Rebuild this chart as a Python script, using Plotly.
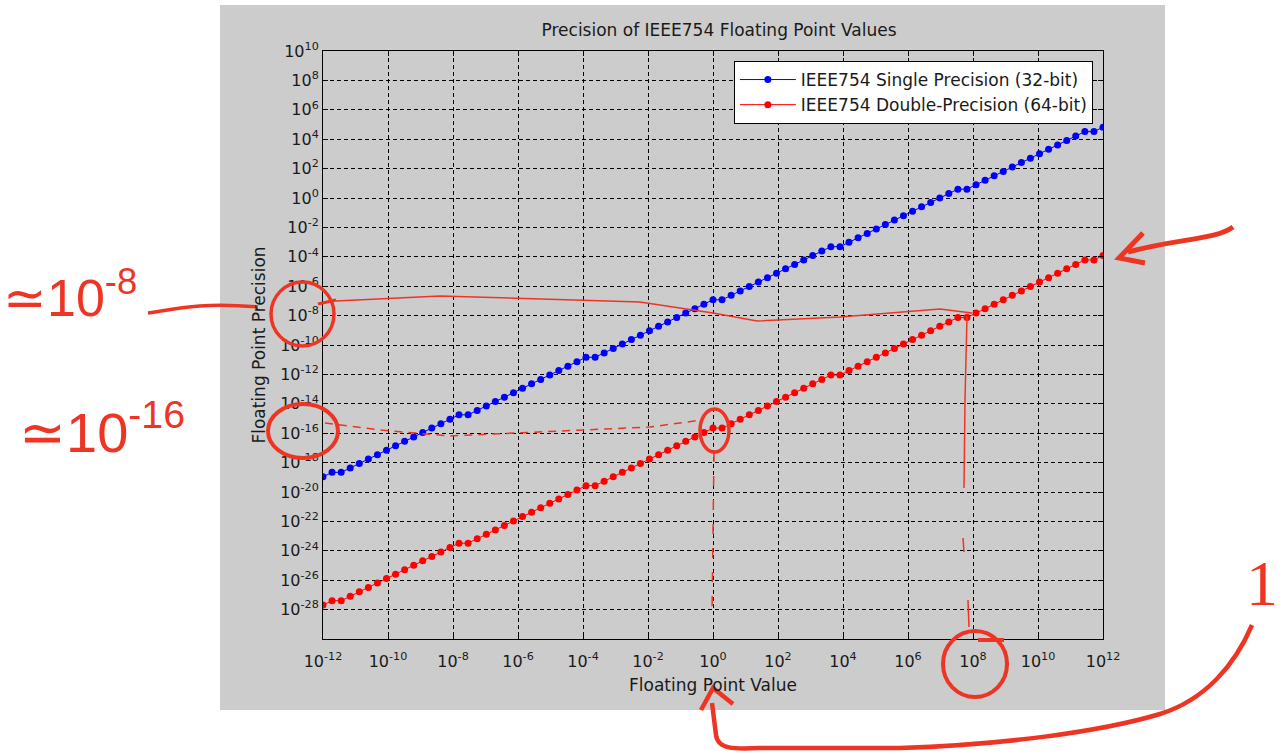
import re
import plotly.graph_objects as go

# ---------------- data ----------------
x_values = [
    1.00e-12, 1.90e-12, 3.62e-12, 6.88e-12, 1.31e-11, 2.49e-11, 4.73e-11, 8.99e-11,
    1.71e-10, 3.25e-10, 6.18e-10, 1.17e-9, 2.23e-9, 4.25e-9, 8.07e-9, 1.53e-8,
    2.92e-8, 5.55e-8, 1.06e-7, 2.01e-7, 3.81e-7, 7.25e-7, 1.38e-6, 2.62e-6,
    4.99e-6, 9.48e-6, 1.80e-5, 3.43e-5, 6.52e-5, 1.24e-4, 2.36e-4, 4.48e-4,
    8.52e-4, 1.62e-3, 3.08e-3, 5.85e-3, 1.11e-2, 2.12e-2, 4.02e-2, 7.65e-2,
    0.145, 0.277, 0.526, 1.00, 1.90, 3.62, 6.88, 13.1,
    24.9, 47.3, 89.9, 171.0, 325.0, 618.0, 1.17e3, 2.23e3,
    4.25e3, 8.07e3, 1.53e4, 2.92e4, 5.55e4, 1.06e5, 2.01e5, 3.81e5,
    7.25e5, 1.38e6, 2.62e6, 4.99e6, 9.48e6, 1.80e7, 3.43e7, 6.52e7,
    1.24e8, 2.36e8, 4.48e8, 8.52e8, 1.62e9, 3.08e9, 5.85e9, 1.11e10,
    2.12e10, 4.02e10, 7.65e10, 1.45e11, 2.77e11, 5.26e11, 1.00e12,
]

single_precision = [
    1.08e-19, 2.17e-19, 2.17e-19, 4.34e-19, 8.67e-19, 1.73e-18, 3.47e-18, 6.94e-18,
    1.39e-17, 2.78e-17, 5.55e-17, 1.11e-16, 2.22e-16, 4.44e-16, 8.88e-16, 1.78e-15,
    1.78e-15, 3.55e-15, 7.11e-15, 1.42e-14, 2.84e-14, 5.68e-14, 1.14e-13, 2.27e-13,
    4.55e-13, 9.09e-13, 1.82e-12, 3.64e-12, 7.28e-12, 1.46e-11, 1.46e-11, 2.91e-11,
    5.82e-11, 1.16e-10, 2.33e-10, 4.66e-10, 9.31e-10, 1.86e-9, 3.73e-9, 7.45e-9,
    1.49e-8, 2.98e-8, 5.96e-8, 1.19e-7, 1.19e-7, 2.38e-7, 4.77e-7, 9.54e-7,
    1.91e-6, 3.81e-6, 7.63e-6, 1.53e-5, 3.05e-5, 6.10e-5, 1.22e-4, 2.44e-4,
    4.88e-4, 4.88e-4, 9.77e-4, 1.95e-3, 3.91e-3, 7.81e-3, 0.0156, 0.0313,
    0.0625, 0.125, 0.25, 0.5, 1.0, 2.0, 4.0, 4.0,
    8.0, 16.0, 32.0, 64.0, 128.0, 256.0, 512.0, 1024.0,
    2048.0, 4096.0, 8192.0, 16384.0, 32768.0, 32768.0, 65536.0,
]

double_precision = [
    2.02e-28, 4.04e-28, 4.04e-28, 8.08e-28, 1.62e-27, 3.23e-27, 6.46e-27, 1.29e-26,
    2.58e-26, 5.17e-26, 1.03e-25, 2.07e-25, 4.14e-25, 8.27e-25, 1.65e-24, 3.31e-24,
    3.31e-24, 6.62e-24, 1.32e-23, 2.65e-23, 5.29e-23, 1.06e-22, 2.12e-22, 4.24e-22,
    8.47e-22, 1.69e-21, 3.39e-21, 6.78e-21, 1.36e-20, 2.71e-20, 2.71e-20, 5.42e-20,
    1.08e-19, 2.17e-19, 4.34e-19, 8.67e-19, 1.73e-18, 3.47e-18, 6.94e-18, 1.39e-17,
    2.78e-17, 5.55e-17, 1.11e-16, 2.22e-16, 2.22e-16, 4.44e-16, 8.88e-16, 1.78e-15,
    3.55e-15, 7.11e-15, 1.42e-14, 2.84e-14, 5.68e-14, 1.14e-13, 2.27e-13, 4.55e-13,
    9.09e-13, 9.09e-13, 1.82e-12, 3.64e-12, 7.28e-12, 1.46e-11, 2.91e-11, 5.82e-11,
    1.16e-10, 2.33e-10, 4.66e-10, 9.31e-10, 1.86e-9, 3.73e-9, 7.45e-9, 7.45e-9,
    1.49e-8, 2.98e-8, 5.96e-8, 1.19e-7, 2.38e-7, 4.77e-7, 9.54e-7, 1.91e-6,
    3.81e-6, 7.63e-6, 1.53e-5, 3.05e-5, 6.10e-5, 6.10e-5, 1.22e-4,
]

x_tick_exponents = [-12, -10, -8, -6, -4, -2, 0, 2, 4, 6, 8, 10, 12]
y_tick_exponents = [-28, -26, -24, -22, -20, -18, -16, -14, -12, -10, -8, -6, -4,
                    -2, 0, 2, 4, 6, 8, 10]

series_names = ["IEEE754 Single Precision (32-bit)", "IEEE754 Double-Precision (64-bit)"]

# ---------------- figure ----------------
FONT = "DejaVu Sans"
TXT = "#1a1a1a"
INK = "#ee3524"
W, H = 1287, 754
L, R, T, B = 323, 1103, 51, 639


def px(x, y):
    return (x - L) / (R - L), (B - y) / (B - T)


def path(s):
    def rep(m):
        X, Y = px(float(m.group(1)), float(m.group(2)))
        return f"{X:.5f},{Y:.5f}"
    return re.sub(r"(-?\d+(?:\.\d+)?),(-?\d+(?:\.\d+)?)", rep, s)


fig = go.Figure()
fig.add_trace(go.Scatter(
    x=x_values, y=single_precision, name=series_names[0], mode="lines+markers",
    line=dict(color="#0000ff", width=1), marker=dict(color="#0000ff", size=7),
))
fig.add_trace(go.Scatter(
    x=x_values, y=double_precision, name=series_names[1], mode="lines+markers",
    line=dict(color="#ff0000", width=1), marker=dict(color="#ff0000", size=7),
))

axis_common = dict(
    type="log", showline=True, linecolor="black", linewidth=1, mirror="ticks",
    ticks="inside", ticklen=5, tickcolor="black", tickwidth=1,
    showgrid=True, gridcolor="black", gridwidth=1, griddash="4px,3px",
    zeroline=False, tickfont=dict(family=FONT, size=16, color=TXT),
)

fig.update_xaxes(
    **axis_common, range=[-12, 12], ticklabelstandoff=8,
    tickvals=[10.0 ** e for e in x_tick_exponents],
    ticktext=[f"10<sup>{e}</sup>" for e in x_tick_exponents],
    title=dict(text="Floating Point Value", font=dict(family=FONT, size=17, color=TXT), standoff=8),
)
fig.update_yaxes(
    **axis_common, range=[-30, 10],
    tickvals=[10.0 ** e for e in y_tick_exponents],
    ticktext=[f"10<sup>{e}</sup>" for e in y_tick_exponents],
    title=dict(text="Floating Point Precision", font=dict(family=FONT, size=17, color=TXT), standoff=10),
)

shapes = []
# grey figure background
x0, y0 = px(220, 710)
x1, y1 = px(1165, 5)
shapes.append(dict(type="rect", xref="paper", yref="paper", x0=x0, y0=y0, x1=x1, y1=y1,
                   fillcolor="#cccccc", line=dict(width=0), layer="below"))


def stroke(s, width, dash="solid"):
    shapes.append(dict(type="path", xref="paper", yref="paper", path=path(s),
                       line=dict(color=INK, width=width, dash=dash), layer="above"))


def ellipse(xa, ya, xb, yb, width):
    a, b = px(xa, yb)
    c, d = px(xb, ya)
    shapes.append(dict(type="circle", xref="paper", yref="paper", x0=a, y0=b, x1=c, y1=d,
                       line=dict(color=INK, width=width), layer="above"))


# hand-drawn annotations
stroke("M148,313 C175,309 200,302 258,307", 3.5)
ellipse(271, 282, 334, 346, 3.5)
stroke("M318,304 L336,300", 3)
stroke("M336,301 L440,296 L640,302 L713,313 L757,321 L840,317 L940,309 L972,313", 1.5)
stroke("M967,316 L965,400 L964,488", 1.5)
stroke("M963,538 L964,552", 1.5)
stroke("M968,600 L969,627", 1.5)
ellipse(268, 404, 338, 458, 4)
stroke("M325,423 L380,430 L450,436 L560,431 L650,427 L702,420", 1.5, dash="8px,6px")
ellipse(700, 409, 729, 452, 3.5)
stroke("M714,452 L712,615", 1.5, dash="10px,14px")
ellipse(943, 631, 1007, 697, 4)
stroke("M978,640 L1004,640", 4)
stroke("M1233,227 C1215,240 1180,238 1128,252", 5)
stroke("M1143,233 L1119,258 L1145,263", 5)
stroke("M1252,625 C1235,665 1205,700 1160,714 C1100,732 1000,745 900,748 L760,748 C735,749 718,750 716,735 L712,703", 4.5)
stroke("M701,710 L713,688 L733,704", 4.5)

annotations = []


def note(text, x, y, size, family="Liberation Sans"):
    X, Y = px(x, y)
    annotations.append(dict(text=text, x=X, y=Y, xref="paper", yref="paper", showarrow=False,
                            font=dict(family=family, size=size, color=INK),
                            xanchor="center", yanchor="middle"))


note("≃10<sup>-8</sup>", 70, 294, 52)
note("≃10<sup>-16</sup>", 102, 428, 56)
note("1", 1262, 583, 64, family="Liberation Serif")

fig.update_layout(
    width=W, height=H, autosize=False,
    margin=dict(l=L, r=W - R, t=T, b=H - B, pad=0),
    paper_bgcolor="white", plot_bgcolor="white",
    title=dict(text="Precision of IEEE754 Floating Point Values",
               x=(719 - L) / (R - L), xref="paper",
               y=1 - 30 / H, yref="container", xanchor="center", yanchor="middle",
               font=dict(family=FONT, size=17, color=TXT)),
    showlegend=True,
    legend=dict(x=0.987, y=0.983, xanchor="right", yanchor="top", bgcolor="white",
                bordercolor="black", borderwidth=1, font=dict(family=FONT, size=17, color=TXT),
                tracegroupgap=0, itemwidth=56),
    shapes=shapes, annotations=annotations,
)

fig.write_html("out.html", config={"displayModeBar": False},
               post_script="document.body.style.margin='0';document.body.style.padding='0';")
